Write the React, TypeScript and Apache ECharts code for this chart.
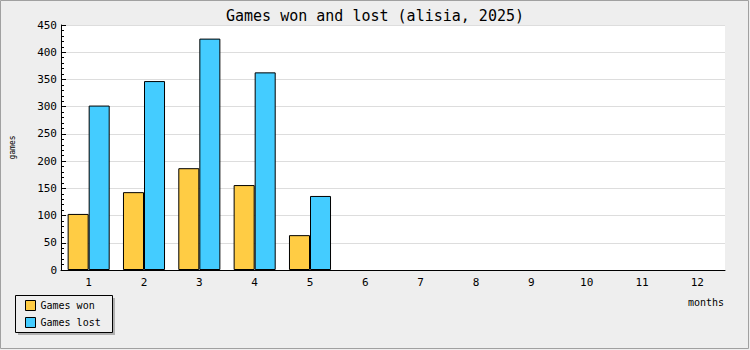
import React, { useEffect, useRef } from "react";
import * as echarts from "echarts";

const months = ["1", "2", "3", "4", "5", "6", "7", "8", "9", "10", "11", "12"];
const gamesWon = [103, 143, 187, 156, 64, null, null, null, null, null, null, null];
const gamesLost = [302, 347, 425, 363, 136, null, null, null, null, null, null, null];
const seriesNames = ["Games won", "Games lost"];
const titleText = "Games won and lost (alisia, 2025)";

const MONO = "'DejaVu Sans Mono', monospace";

export default function App() {
  const ref = useRef<HTMLDivElement>(null);
  useEffect(() => {
    if (!ref.current) return;
    const chart = echarts.init(ref.current, null, { renderer: "svg" });
    chart.setOption({
      animation: false,
      backgroundColor: "#eeeeee",
      title: {
        text: titleText,
        left: "center",
        top: 3,
        textStyle: { fontFamily: MONO, fontSize: 15, fontWeight: "normal", color: "#000" },
      },
      graphic: [
        {
          type: "rect",
          z: 0,
          shape: { x: 0.5, y: 0.5, width: 748, height: 348 },
          style: { fill: "none", stroke: "#a0a0a0", lineWidth: 1 },
        },
        {
          type: "rect",
          z: 0,
          shape: { x: 18, y: 298, width: 97, height: 37 },
          style: { fill: "#b0b0b0" },
        },
        {
          type: "rect",
          z: 1,
          shape: { x: 15.5, y: 295.5, width: 97, height: 37 },
          style: { fill: "#eeeeee", stroke: "#000", lineWidth: 1 },
        },
        {
          type: "text",
          z: 1,
          x: 724,
          y: 302,
          style: {
            text: "months",
            fontFamily: MONO,
            fontSize: 10,
            fill: "#000",
            textAlign: "right",
            textVerticalAlign: "middle",
          },
        },
      ],
      legend: {
        orient: "vertical",
        left: 25,
        top: 300,
        padding: 0,
        itemGap: 6,
        itemWidth: 10,
        itemHeight: 10,
        icon: "rect",
        z: 10,
        data: seriesNames,
        itemStyle: { borderColor: "#000", borderWidth: 1 },
        textStyle: { fontFamily: MONO, fontSize: 10, color: "#000", lineHeight: 10 },
      },
      grid: {
        left: 61,
        right: 25,
        top: 25,
        bottom: 80,
        show: true,
        backgroundColor: "#ffffff",
        borderWidth: 0,
      },
      xAxis: {
        type: "category",
        data: months,
        boundaryGap: true,
        axisLine: { lineStyle: { color: "#000", width: 1 } },
        axisTick: { inside: true, length: 5, lineStyle: { color: "#000" } },
        axisLabel: { fontFamily: MONO, fontSize: 11, color: "#000", margin: 7 },
        splitLine: { show: false },
      },
      yAxis: {
        type: "value",
        min: 0,
        max: 450,
        interval: 50,
        name: "games",
        nameLocation: "middle",
        nameRotate: 90,
        nameGap: 45,
        nameTextStyle: { fontFamily: MONO, fontSize: 8, color: "#000" },
        axisLine: { show: true, lineStyle: { color: "#000", width: 1 } },
        axisTick: { show: true, inside: true, length: 5, lineStyle: { color: "#000" } },
        minorTick: { show: true, splitNumber: 5, length: 3, lineStyle: { color: "#000" } },
        axisLabel: { fontFamily: MONO, fontSize: 11, color: "#000", margin: 4 },
        splitLine: { show: true, lineStyle: { color: "#dddddd", width: 1 } },
      },
      series: [
        {
          name: seriesNames[0],
          type: "bar",
          data: gamesWon,
          barGap: "0%",
          barCategoryGap: "24%",
          itemStyle: { color: "#ffcc44", borderColor: "#000", borderWidth: 1 },
        },
        {
          name: seriesNames[1],
          type: "bar",
          data: gamesLost,
          barGap: "0%",
          barCategoryGap: "24%",
          itemStyle: { color: "#44ccff", borderColor: "#000", borderWidth: 1 },
        },
      ],
    });
    return () => chart.dispose();
  }, []);
  return (
    <div
      ref={ref}
      style={{ position: "fixed", left: 0, top: 0, width: 750, height: 350 }}
    />
  );
}
